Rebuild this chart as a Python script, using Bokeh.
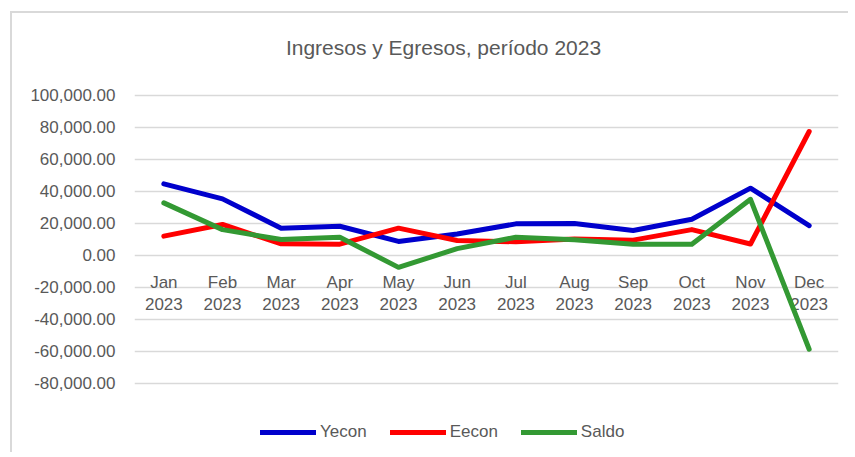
from bokeh.plotting import figure
from bokeh.models import Range1d, NumeralTickFormatter, Legend, LegendItem, Label, FixedTicker, ColumnDataSource
from bokeh.core.properties import value
from bokeh.embed import file_html
from bokeh.resources import INLINE

months = ["Jan", "Feb", "Mar", "Apr", "May", "Jun", "Jul", "Aug", "Sep", "Oct", "Nov", "Dec"]
year = "2023"
categories = [f"{m}\n{year}" for m in months]

yecon = [44600, 35200, 16900, 18100, 8600, 13300, 19600, 19800, 15400, 22500, 41900, 18500]
eecon = [11900, 19200, 7100, 6900, 16900, 9200, 8400, 10200, 9400, 16000, 7000, 77300]
saldo = [32700, 16000, 9800, 11200, -7600, 4100, 11200, 9600, 6900, 6900, 34900, -58800]

y_ticks = [-80000, -60000, -40000, -20000, 0, 20000, 40000, 60000, 80000, 100000]
title_text = "Ingresos y Egresos, período 2023"

FONT = "Liberation Sans, Arial, sans-serif"
GRAY = "#595959"

# frame spans the full canvas height; the visible value axis runs -80,000..100,000
p = figure(x_range=categories, y_range=Range1d(-124560, 151060),
           width=838, height=441, output_backend="svg", toolbar_location=None,
           min_border_left=122, min_border_right=12, min_border_top=0, min_border_bottom=0)
p.styles = {"border-left": "2px solid #d9d9d9", "border-top": "2px solid #d9d9d9",
            "margin-left": "10px", "margin-top": "11px"}
p.outline_line_color = None
p.xgrid.grid_line_color = None
p.ygrid.grid_line_color = "#d9d9d9"
p.ygrid.grid_line_width = 1.5

p.yaxis.ticker = FixedTicker(ticks=y_ticks)
p.yaxis.formatter = NumeralTickFormatter(format="0,0.00")
p.yaxis.axis_line_color = None
p.yaxis.major_tick_line_color = None
p.yaxis.minor_tick_line_color = None
p.yaxis.major_label_text_font = FONT
p.yaxis.major_label_text_font_size = "17px"
p.yaxis.major_label_text_color = GRAY
p.yaxis.major_label_standoff = 13

p.xaxis.visible = False

# category labels sit just under the zero line, as in the spreadsheet chart
lab_src = ColumnDataSource(dict(x=categories, y=[0] * len(categories), t=categories))
p.text(x="x", y="y", text="t", source=lab_src, text_font=value(FONT), text_font_size="17px",
       text_color=GRAY, text_align="center", text_baseline="middle", text_line_height=1.15,
       y_offset=38)

colors = ["#0000CC", "#FF0000", "#339933"]
names = ["Yecon", "Eecon", "Saldo"]
items = []
for vals, c, n in zip([yecon, eecon, saldo], colors, names):
    r = p.line(categories, vals, line_color=c, line_width=5, line_join="round", line_cap="round")
    items.append(LegendItem(label=n, renderers=[r]))

legend = Legend(items=items, orientation="horizontal", location=(126, 12),
                label_text_font=FONT, label_text_font_size="17px", label_text_color=GRAY,
                glyph_width=56, glyph_height=20, label_height=20, label_standoff=4, spacing=23,
                padding=0, margin=0, border_line_color=None, background_fill_alpha=0)
p.add_layout(legend, "center")

title = Label(x=309, y=407, x_units="screen", y_units="screen", text=title_text,
              text_font=FONT, text_font_size="21px", text_color=GRAY,
              text_align="center", text_baseline="middle")
p.add_layout(title)

open("out.html", "w").write(file_html(p, INLINE))
